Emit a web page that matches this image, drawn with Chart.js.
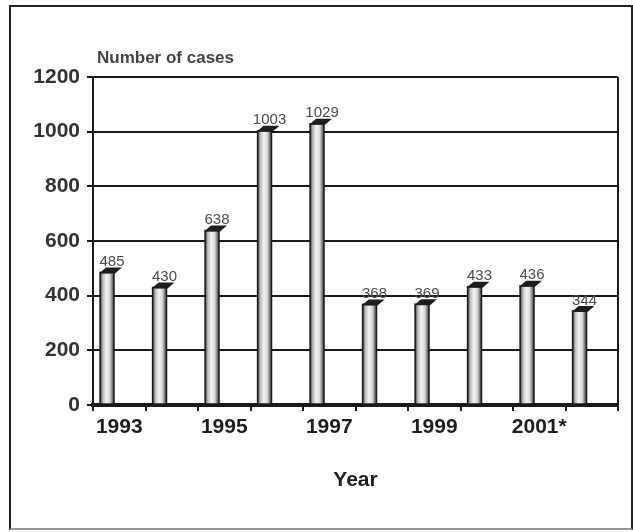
<!DOCTYPE html>
<html>
<head>
<meta charset="utf-8">
<script src="https://cdn.jsdelivr.net/npm/chart.js@4.4.1/dist/chart.umd.min.js"></script>
<style>
  html, body { margin: 0; padding: 0; background: #fff; }
  #frame {
    position: absolute;
    left: 9px;
    top: 5px;
    width: 620px;
    height: 521px;
    border: 2px solid #222;
    border-bottom-color: #999;
  }
  #chart { display: block; }
</style>
</head>
<body>
<div id="frame"><canvas id="chart" width="620" height="521"></canvas></div>
<script>
const years = ['1993', '1994', '1995', '1996', '1997', '1998', '1999', '2000', '2001*', '2002'];
const cases = [485, 430, 638, 1003, 1029, 368, 369, 433, 436, 344];
const shownYears = ['1993', '1995', '1997', '1999', '2001*'];
const yTicks = [0, 200, 400, 600, 800, 1000, 1200];

const FONT = 'Arial, "Liberation Sans", sans-serif';

// draws the rounded-looking bars, their dark caps and the value labels
const barsPlugin = {
  id: 'bars3d',
  afterDatasetsDraw(chart) {
    const ctx = chart.ctx;
    const meta = chart.getDatasetMeta(0);
    ctx.save();
    meta.data.forEach((bar, i) => {
      const left = bar.x - bar.width / 2;
      const right = bar.x + bar.width / 2;
      const top = bar.y;
      const bottom = bar.base;

      const grad = ctx.createLinearGradient(left, 0, right, 0);
      grad.addColorStop(0, '#3a3a3a');
      grad.addColorStop(0.2, '#bdbdbd');
      grad.addColorStop(0.45, '#f4f4f4');
      grad.addColorStop(0.7, '#d8d8d8');
      grad.addColorStop(1, '#3a3a3a');
      ctx.fillStyle = grad;
      ctx.fillRect(left, top, right - left, bottom - top);
      ctx.strokeStyle = '#1a1a1a';
      ctx.lineWidth = 1.5;
      ctx.strokeRect(left, top, right - left, bottom - top);

      ctx.fillStyle = '#1e1e1e';
      ctx.beginPath();
      ctx.moveTo(left - 1, top + 1);
      ctx.lineTo(right + 1, top + 1);
      ctx.lineTo(right + 8, top - 5);
      ctx.lineTo(left + 6, top - 5);
      ctx.closePath();
      ctx.fill();

      ctx.fillStyle = '#4a4a4a';
      ctx.font = '15px ' + FONT;
      ctx.textAlign = 'center';
      ctx.textBaseline = 'bottom';
      ctx.fillText(String(cases[i]), bar.x + 5, top - 3);
    });
    ctx.restore();
  },
  afterDraw(chart) {
    const ctx = chart.ctx;
    const area = chart.chartArea;
    ctx.save();
    // right edge of the plot
    ctx.strokeStyle = '#1a1a1a';
    ctx.lineWidth = 2;
    ctx.beginPath();
    ctx.moveTo(area.right, area.top);
    ctx.lineTo(area.right, area.bottom);
    ctx.stroke();
    // axis caption over the y axis
    ctx.fillStyle = '#444';
    ctx.font = 'bold 17px ' + FONT;
    ctx.textAlign = 'left';
    ctx.textBaseline = 'middle';
    ctx.fillText('Number of cases', area.left + 4, area.top - 19);
    ctx.restore();
  },
};

new Chart(document.getElementById('chart'), {
  type: 'bar',
  data: {
    labels: years,
    datasets: [
      {
        label: 'Number of cases',
        data: cases,
        backgroundColor: 'rgba(0,0,0,0)',
        borderWidth: 0,
        categoryPercentage: 0.93,
        barPercentage: 0.57,
      },
      {
        label: 'spacer',
        data: years.map(() => null),
        backgroundColor: 'rgba(0,0,0,0)',
        categoryPercentage: 0.93,
        barPercentage: 0.57,
      },
    ],
  },
  options: {
    responsive: false,
    animation: false,
    layout: { padding: { left: 0, top: 70, right: 13, bottom: 35 } },
    plugins: {
      legend: { display: false },
      tooltip: { enabled: false },
    },
    scales: {
      x: {
        offset: true,
        grid: {
          offset: true,
          drawOnChartArea: false,
          color: '#1a1a1a',
          lineWidth: 2,
          tickLength: 6,
        },
        border: { color: '#1a1a1a', width: 4 },
        ticks: {
          autoSkip: false,
          maxRotation: 0,
          padding: 4,
          color: '#1e1e1e',
          font: { family: FONT, size: 21, weight: 'bold' },
          callback(value, index) {
            const label = years[index];
            return shownYears.includes(label) ? label : '';
          },
        },
        title: {
          display: true,
          text: 'Year',
          color: '#1e1e1e',
          font: { family: FONT, size: 21, weight: 'bold' },
          padding: { top: 0, bottom: 0 },
        },
        afterFit(scale) {
          scale.height = 88;
        },
      },
      y: {
        min: yTicks[0],
        max: yTicks[yTicks.length - 1],
        afterBuildTicks(scale) {
          scale.ticks = yTicks.map((v) => ({ value: v }));
        },
        grid: {
          color: '#1a1a1a',
          lineWidth: 2,
          tickLength: 6,
        },
        border: { color: '#1a1a1a', width: 2 },
        ticks: {
          padding: 7,
          color: '#333',
          font: { family: FONT, size: 21, weight: 'bold' },
          callback: (value) => String(value),
        },
        afterFit(scale) {
          scale.width = 82;
        },
      },
    },
  },
  plugins: [barsPlugin],
});
</script>
</body>
</html>
